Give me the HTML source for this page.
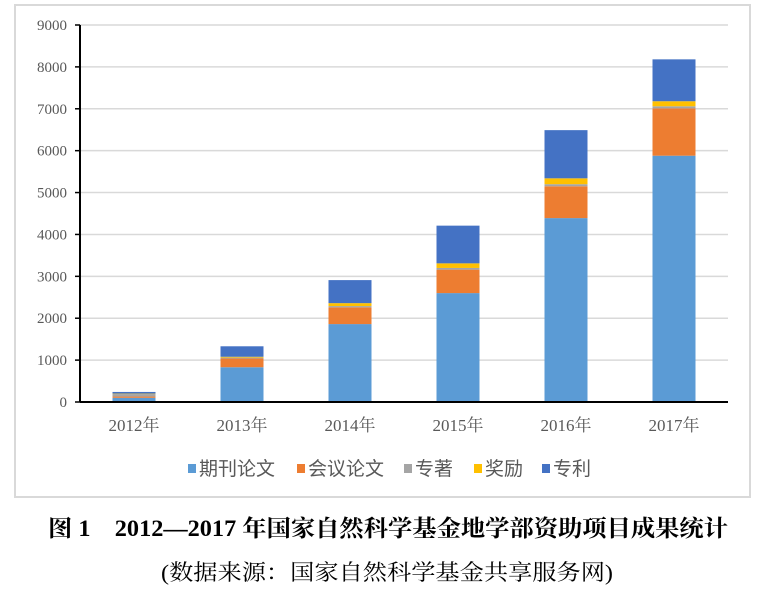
<!DOCTYPE html>
<html><head><meta charset="utf-8"><style>
body{margin:0;background:#fff;width:775px;height:593px;overflow:hidden;font-family:"Liberation Serif","Noto Serif CJK SC",serif}
</style></head><body>
<svg width="775" height="593">
<rect x="15" y="5" width="735" height="492" fill="#fff" stroke="#d9d9d9" stroke-width="2"/>
<g id="grid"></g><g id="bars"></g><g id="axes"></g>
<g id="legend" font-family="'Liberation Sans','Noto Sans CJK SC',sans-serif" font-size="19" fill="#595959"></g>
<text x="388" y="536" text-anchor="middle" font-size="23" font-weight="bold" textLength="680" lengthAdjust="spacingAndGlyphs" font-family="'Liberation Serif','Noto Serif CJK SC',serif">图 1　2012—2017 年国家自然科学基金地学部资助项目成果统计</text>
<text x="387" y="580" text-anchor="middle" font-size="22" textLength="452" lengthAdjust="spacingAndGlyphs" font-family="'Liberation Serif','Noto Serif CJK SC',serif">(数据来源：国家自然科学基金共享服务网)</text>
</svg>
<script>
const categories=["2012年","2013年","2014年","2015年","2016年","2017年"];
const journal=[100,830,1860,2600,4390,5880];
const conference=[30,210,400,560,760,1130];
const books=[60,20,30,40,50,50];
const awards=[10,20,70,110,140,120];
const patents=[40,250,550,900,1150,1000];
const seriesNames=["期刊论文","会议论文","专著","奖励","专利"];
const yTicks=[0,1000,2000,3000,4000,5000,6000,7000,8000,9000];
const colors=["#5b9bd5","#ed7d31","#a5a5a5","#ffc000","#4472c4"];
const series=[journal,conference,books,awards,patents];
const NS="http://www.w3.org/2000/svg";
const x0=80,x1=728,y0=402,yTop=25,yMax=9000;
const y=v=>y0-(v/yMax)*(y0-yTop);
const band=(x1-x0)/categories.length;
const xc=i=>x0+band*(i+0.5);
function mk(t,a,p){const e=document.createElementNS(NS,t);for(const k in a)e.setAttribute(k,a[k]);p.appendChild(e);return e;}
const G=document.getElementById('grid'),B=document.getElementById('bars'),A=document.getElementById('axes'),L=document.getElementById('legend');
yTicks.forEach(v=>{
 if(v>0){const l=mk('line',{x1:x0,x2:x1,y1:y(v),y2:y(v),stroke:'#d9d9d9','stroke-width':1.5},G);
 
 }
 const tk=mk('line',{x1:x0-5,x2:x0,y1:y(v),y2:y(v),stroke:'#000','stroke-width':1.5},A);
 
 
 const t=mk('text',{x:x0-13,y:y(v)+5,'text-anchor':'end','font-size':15,fill:'#595959'},A);
 t.textContent=v;
 
 
});
const bw=43;
categories.forEach((c,i)=>{
 let acc=0;
 series.forEach((s,k)=>{
  const r=mk('rect',{x:xc(i)-bw/2,y:y(acc+s[i]),width:bw,height:y(acc)-y(acc+s[i]),fill:colors[k]},B);
  
  
  acc+=s[i];
 });
 const t=mk('text',{x:xc(i),y:431,'text-anchor':'middle','font-size':17,fill:'#595959'},A);
 t.textContent=c;
 
 
});
const ax=mk('line',{x1:x0,x2:x1,y1:y0,y2:y0,stroke:'#000','stroke-width':2},A);


const ay=mk('line',{x1:x0,x2:x0,y1:yTop,y2:y0,stroke:'#000','stroke-width':2},A);


const lx=[188,297,404,474,542];
seriesNames.forEach((n,k)=>{
 const g=mk('g',{},L);
 
 
 mk('rect',{x:lx[k],y:464,width:8,height:9,fill:colors[k]},g);
 const t=mk('text',{x:lx[k]+11,y:475},g);
 t.textContent=n;
});
</script>
</body></html>
